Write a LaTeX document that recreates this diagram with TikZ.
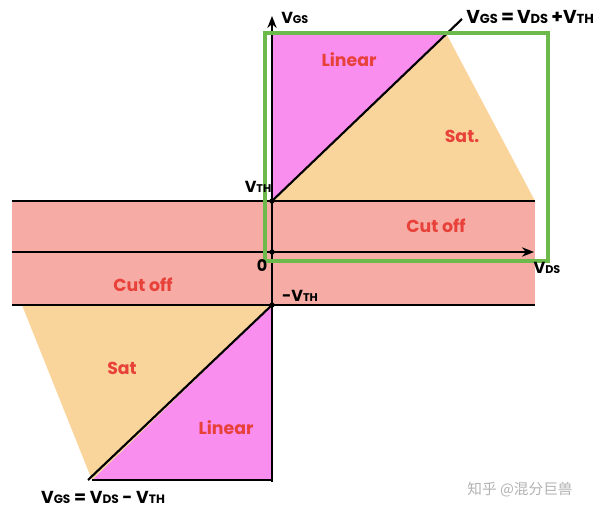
\documentclass[tikz,border=0pt]{standalone}
\usepackage{fontspec}
\setmainfont{Poppins}
\newfontfamily\cjk{Noto Sans CJK SC}
\usetikzlibrary{arrows.meta}
\definecolor{cutc}{HTML}{F6ACA4}
\definecolor{satc}{HTML}{F9D49B}
\definecolor{linc}{HTML}{F98EEE}
\definecolor{grn}{HTML}{6CBA4C}
\definecolor{redt}{HTML}{E8413A}
\tikzset{
  ax/.style={line width=1.6pt, black},
  region/.style={text=redt, font=\fontsize{13}{13}\selectfont\bfseries},
  lbl/.style={text=black, font=\fontsize{12}{12}\selectfont\bfseries, inner sep=0pt},
  biglbl/.style={text=black, font=\fontsize{14}{14}\selectfont\bfseries, inner sep=0pt},
  midlbl/.style={text=black, font=\fontsize{13}{13}\selectfont\bfseries, inner sep=0pt},
  dot/.style={circle, fill=black, inner sep=0pt, minimum size=4pt},
}
\newcommand{\sub}[1]{{\fontsize{0.7em}{0.7em}\selectfont #1}}
\begin{document}
\begin{tikzpicture}[x=0.75pt,y=-0.75pt]
\useasboundingbox (0,0) rectangle (600,514);
% fills
\fill[cutc] (12,201) rectangle (535,305);
\fill[linc] (272,201) -- (272,35) -- (447,35) -- cycle;
\fill[satc] (272,201) -- (447,35) -- (535,201) -- cycle;
\fill[linc] (272,305) -- (272,480) -- (92,480) -- cycle;
\fill[satc] (272,305) -- (92,480) -- (22,305) -- cycle;
% coordinates
\node[dot] (vth) at (272,201) {};
\node[dot] (o) at (272,252) {};
\node[dot] (mvth) at (272,305) {};
\coordinate (ytop) at (272,16);
\coordinate (ybot) at (272,482);
\coordinate (xl) at (12,252);
\coordinate (xr) at (534,252);
\coordinate (ul) at (462,19);
\coordinate (ll) at (88,480);
% horizontal lines
\draw[ax] (12,201) -- (535,201);
\draw[ax] (12,305) -- (535,305);
\draw[ax] (92,480) -- (272,480);
\draw[ax,-{Stealth[length=9pt,width=7pt]}] (xl) -- (xr);
\draw[ax,-{Stealth[length=9pt,width=7pt]}] (ybot) -- (ytop);
% diagonals
\draw[ax] (vth.center) -- (ul);
\draw[ax] (mvth.center) -- (ll);
% green box
\draw[grn, line width=3pt] (265,33) rectangle (548,261);
% labels
\node[lbl, anchor=west] (vgs) at (281,18) {V\sub{GS}};
\node[biglbl, anchor=west] (eq1) at (466,17) {V\sub{GS}\,=\,V\sub{DS}\,+V\sub{TH}};
\node[lbl] (lvth) at (258,187) {V\sub{TH}};
\node[lbl] (l0) at (262,266) {0};
\node[lbl] (lvds) at (547,268) {V\sub{DS}};
\node[lbl] (lmvth) at (300,296) {-V\sub{TH}};
\node[midlbl] (eq2) at (103,497) {V\sub{GS} = V\sub{DS} - V\sub{TH}};
% region texts
\node[region] (lin1) at (349,60) {Linear};
\node[region] (sat1) at (462,136) {Sat.};
\node[region] (cut1) at (436,226) {Cut off};
\node[region] (cut2) at (143,285) {Cut off};
\node[region] (sat2) at (122,368) {Sat};
\node[region] (lin2) at (226,428) {Linear};
% watermark
\node[text=gray!60, font=\cjk\fontsize{11}{11}\selectfont] (wm) at (520,490) {知乎 @混分巨兽};
\end{tikzpicture}
\end{document}
